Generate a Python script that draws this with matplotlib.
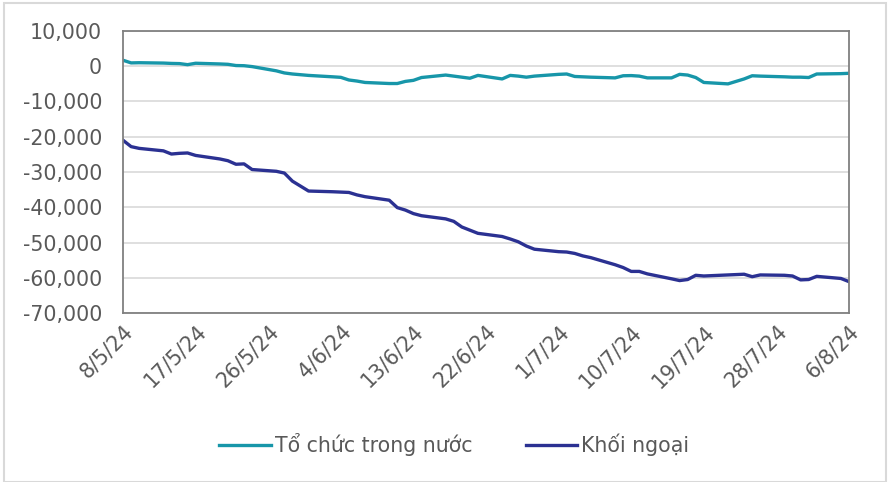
import numpy as np
import pandas as pd
import matplotlib
matplotlib.use("Agg")
import matplotlib.pyplot as plt
from matplotlib.patches import Rectangle

# trading days 8/5/2024 - 6/8/2024
dates = pd.bdate_range("2024-05-08", "2024-08-06")

to_chuc = [1700, 950, 1000, 900, 800, 750, 450, 850, 650, 550, 200, 150, -100,
           -1300, -1900, -2200, -2400, -2600,
           -3000, -3150, -3900, -4200, -4600, -4900, -4900, -4300, -4000, -3200,
           -2500, -2800, -3100, -3400, -2600, -3600, -2600, -2800, -3100, -2800,
           -2300, -2200, -2900, -3000, -3100, -3300, -2700, -2650, -2800, -3300,
           -3300, -2300, -2500, -3200, -4600, -5000, -4300, -3600, -2700, -2800,
           -3000, -3100, -3100, -3200, -2200, -2100, -2000]

khoi_ngoai = [-21000, -22800, -23300, -24000, -24900, -24700, -24600, -25300,
              -26300, -26800, -27800, -27700, -29300, -29800, -30300, -32600,
              -34000, -35400, -35600, -35700, -35800, -36500, -37000, -38000,
              -40100, -40800, -41800, -42400, -43300, -44000, -45600, -46500,
              -47400, -48300, -49000, -49800, -51000, -51900, -52600, -52700,
              -53100, -53800, -54300, -56300, -57100, -58200, -58200, -58900,
              -60300, -60800, -60500, -59300, -59500, -59200, -59100, -59000,
              -59700, -59200, -59300, -59500, -60600, -60500, -59600, -60200,
              -61100]

labels = ["Tổ chức trong nước", "Khối ngoại"]
tick_dates = pd.date_range("2024-05-08", "2024-08-06", freq="9D")

fig = plt.figure(figsize=(8.89, 4.82), dpi=100)
ax = fig.add_axes([0.1384, 0.3506, 0.8166, 0.5851])

ax.plot(dates, to_chuc, color="#1796A9", lw=2.4, label=labels[0])
ax.plot(dates, khoi_ngoai, color="#2B3192", lw=2.4, label=labels[1])

ax.set_ylim(-70000, 10000)
ax.set_yticks(np.arange(-70000, 10001, 10000))
ax.yaxis.set_major_formatter(matplotlib.ticker.FuncFormatter(lambda v, p: f"{int(v):,}"))
ax.set_xlim(tick_dates[0], tick_dates[-1])
ax.set_xticks(tick_dates)
ax.set_xticklabels([f"{d.day}/{d.month}/{d.strftime('%y')}" for d in tick_dates],
                   rotation=45, ha="right", rotation_mode="anchor")

ax.grid(axis="y", color="#D9D9D9", lw=1.2)
ax.set_axisbelow(True)
for s in ax.spines.values():
    s.set_color("#808080")
    s.set_linewidth(1.3)
ax.tick_params(length=0, labelsize=14.8, labelcolor="#595959")
ax.tick_params(axis="y", pad=15)
ax.tick_params(axis="x", pad=6)

fig.legend(loc="center", bbox_to_anchor=(0.511, 0.077), ncol=2, frameon=False,
           fontsize=14.8, labelcolor="#595959", handlelength=2.5,
           handletextpad=0.2, columnspacing=2.6)

fig.add_artist(Rectangle((0.004, 0.0), 0.993, 0.994, transform=fig.transFigure,
                         fill=False, edgecolor="#D9D9D9", lw=1.5))

fig.savefig("out.png", dpi=100)
